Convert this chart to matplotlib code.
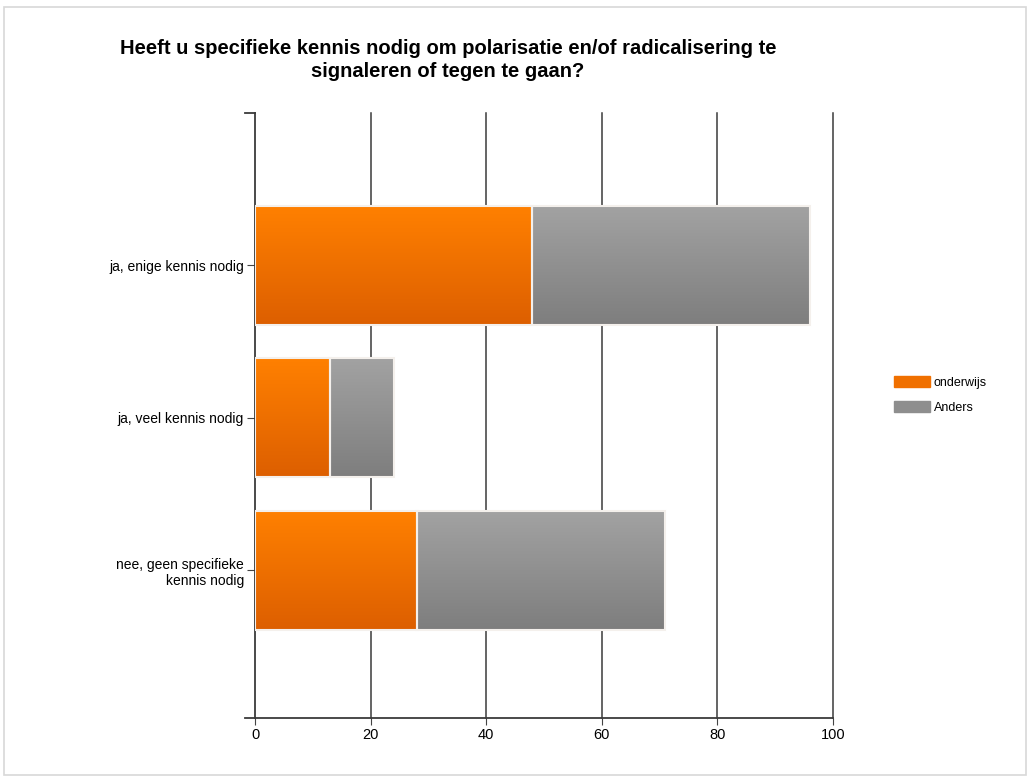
import matplotlib.pyplot as plt
import numpy as np
from matplotlib.patches import Rectangle
from matplotlib.colors import LinearSegmentedColormap

categories = ['nee, geen specifieke\nkennis nodig', 'ja, veel kennis nodig', 'ja, enige kennis nodig']
onderwijs = [28, 13, 48]
anders = [43, 11, 48]
series = [('onderwijs', onderwijs, '#FF8000', '#DD5F00', '#F07000'),
          ('Anders', anders, '#A2A2A2', '#7E7E7E', '#8E8E8E')]
xticks = [0, 20, 40, 60, 80, 100]

plt.rcParams['font.family'] = ['Liberation Sans', 'DejaVu Sans']

fig = plt.figure(figsize=(10.3, 7.8), dpi=100)
ax = fig.add_axes([0.2476, 0.0795, 0.561, 0.7755])

y = np.arange(len(categories))
bar_h = 0.78
grad = np.linspace(0, 1, 64).reshape(-1, 1)

# stacked bars with a vertical gradient fill
left = np.zeros(len(categories))
for name, vals, c_top, c_bot, c_leg in series:
    cmap = LinearSegmentedColormap.from_list(name, [c_top, c_bot])
    for yi, l, v in zip(y, left, vals):
        ax.imshow(grad, cmap=cmap, aspect='auto', origin='upper',
                  extent=(l, l + v, yi - bar_h / 2, yi + bar_h / 2), zorder=3)
        ax.add_patch(Rectangle((l, yi - bar_h / 2), v, bar_h, fill=False,
                               edgecolor='#F4F0EC', lw=1.5, zorder=4))
    left = left + np.array(vals)

ax.set_xlim(0, 100)
ax.set_ylim(-0.97, 3.0)
ax.set_xticks(xticks)
ax.set_yticks(y)
ax.set_yticklabels(categories, fontsize=10, ha='right')
ax.tick_params(axis='x', labelsize=10.5, length=5, color='#444444', pad=2)
ax.tick_params(axis='y', length=6, color='#444444', pad=2)
for xv in xticks[1:]:
    ax.axvline(xv, color='#3A3A3A', lw=1.1, zorder=1, clip_on=False)
for s in ['top', 'right']:
    ax.spines[s].set_visible(False)
for s in ['left', 'bottom']:
    ax.spines[s].set_color('#3A3A3A')
    ax.spines[s].set_linewidth(1.3)
# end caps of the category axis
ax.plot([-1.7, 0], [3.0, 3.0], color='#3A3A3A', lw=1.3, clip_on=False)
ax.plot([-1.7, 0], [-0.97, -0.97], color='#3A3A3A', lw=1.3, clip_on=False)

handles = [Rectangle((0, 0), 1, 1, color=s[4]) for s in series]
fig.legend(handles, [s[0] for s in series], loc='upper left', bbox_to_anchor=(0.857, 0.532),
           frameon=False, fontsize=9, handlelength=2.9, handleheight=0.9, labelspacing=1.0,
           handletextpad=0.3)

fig.text(0.435, 0.923, 'Heeft u specifieke kennis nodig om polarisatie en/of radicalisering te\n'
         'signaleren of tegen te gaan?', ha='center', va='center', fontsize=14.5,
         fontweight='bold', linespacing=1.3)

fig.add_artist(Rectangle((0.004, 0.006), 0.992, 0.985, transform=fig.transFigure,
                         fill=False, edgecolor='#D8D8D8', lw=1.2))

fig.savefig('out.png', dpi=100)
